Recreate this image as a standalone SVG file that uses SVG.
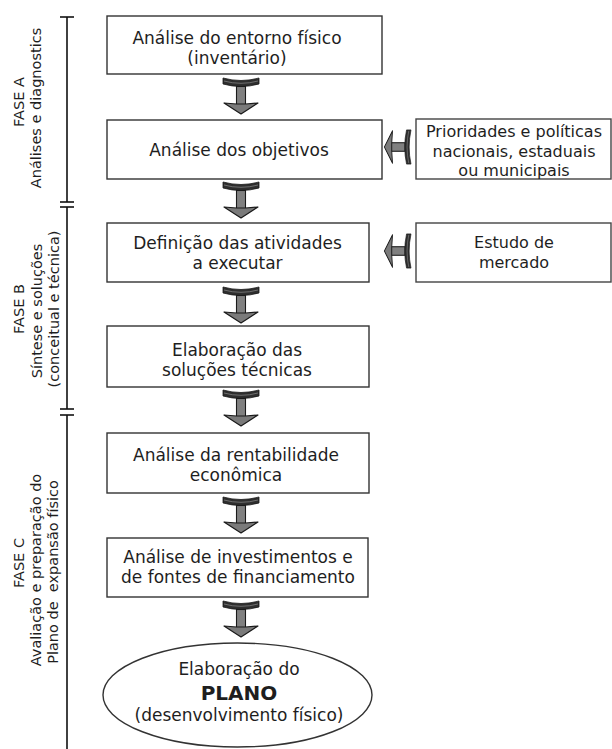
<svg xmlns="http://www.w3.org/2000/svg" width="612" height="749" viewBox="0 0 612 749">
  <style>
    .box { fill: #ffffff; stroke: #333333; stroke-width: 1.4; }
    .rbox { fill: #ffffff; stroke: #444444; stroke-width: 1.4; }
    .t { font-family: "DejaVu Sans", Verdana, sans-serif; font-size: 17px; fill: #1e1e1e; text-anchor: middle; }
    .tr { font-family: "DejaVu Sans", Verdana, sans-serif; font-size: 16px; fill: #1e1e1e; text-anchor: middle; }
    .tb { font-family: "DejaVu Sans", Verdana, sans-serif; font-size: 20px; font-weight: bold; fill: #1e1e1e; text-anchor: middle; }
    .ph { font-family: "DejaVu Sans", Verdana, sans-serif; font-size: 14.5px; fill: #1e1e1e; text-anchor: middle; }
    .axis { stroke: #111111; stroke-width: 1.6; fill: none; }
  </style>
  <defs>
    <g id="arr">
      <path d="M-18,0 Q-9,2.5 0,2.5 Q9,2.5 18,0 L18,6 Q9,8.5 0,8.5 Q-9,8.5 -18,6 Z" fill="#2e2e2e" stroke="#1a1a1a" stroke-width="0.8"/>
      <path d="M-17,3 Q-9,5.3 0,5.3 Q9,5.3 17,3" fill="none" stroke="#8a8a8a" stroke-width="0.7"/>
      <rect x="-4.5" y="8.5" width="9" height="18" fill="#808080" stroke="#1a1a1a" stroke-width="1.1"/>
      <path d="M-17,25 L-4.5,26 L4.5,26 L17,25 L0,36 Z" fill="#7a7a7a" stroke="#1a1a1a" stroke-width="1.2" stroke-linejoin="round"/>
    </g>
  </defs>

  <g id="phases">
    <line class="axis" x1="67" y1="17" x2="67" y2="202"/>
    <line class="axis" x1="67" y1="207" x2="67" y2="409"/>
    <line class="axis" x1="67" y1="415" x2="67" y2="749"/>
    <line class="axis" x1="60" y1="17" x2="74" y2="17"/>
    <line class="axis" x1="60" y1="202" x2="74" y2="202"/>
    <line class="axis" x1="60" y1="207" x2="74" y2="207"/>
    <line class="axis" x1="60" y1="409" x2="74" y2="409"/>
    <line class="axis" x1="60" y1="415" x2="74" y2="415"/>
    <text class="ph" transform="translate(24,102) rotate(-90)">FASE A</text>
    <text class="ph" transform="translate(41,108) rotate(-90)">Análises e diagnostics</text>
    <text class="ph" transform="translate(24,309) rotate(-90)">FASE B</text>
    <text class="ph" transform="translate(42,311) rotate(-90)">Síntese e soluções</text>
    <text class="ph" transform="translate(59,309) rotate(-90)">(conceitual e técnica)</text>
    <text class="ph" transform="translate(24,563) rotate(-90)">FASE C</text>
    <text class="ph" transform="translate(41,570) rotate(-90)">Avaliação e preparação do</text>
    <text class="ph" transform="translate(58,572) rotate(-90)" xml:space="preserve">Plano de  expansão físico</text>
  </g>

  <g id="connectors">
    <use href="#arr" transform="translate(241,78)"/>
    <use href="#arr" transform="translate(241,182)"/>
    <use href="#arr" transform="translate(241,287)"/>
    <use href="#arr" transform="translate(241,390)"/>
    <use href="#arr" transform="translate(241,497)"/>
    <use href="#arr" transform="translate(241,601)"/>
    <use href="#arr" transform="translate(411,147) rotate(90) scale(0.95,0.74)"/>
    <use href="#arr" transform="translate(411,251) rotate(90) scale(0.95,0.74)"/>
  </g>

  <g id="n1">
    <rect class="box" x="107" y="16" width="275" height="58"/>
    <text class="t" x="237" y="44">Análise do entorno físico</text>
    <text class="t" x="237" y="64">(inventário)</text>
  </g>
  <g id="n2">
    <rect class="box" x="107" y="120" width="275" height="59"/>
    <text class="t" x="239" y="156">Análise dos objetivos</text>
  </g>
  <g id="n3">
    <rect class="box" x="107" y="223" width="262" height="59"/>
    <text class="t" x="237.5" y="249">Definição das atividades</text>
    <text class="t" x="237.5" y="269">a executar</text>
  </g>
  <g id="n4">
    <rect class="box" x="107" y="326" width="262" height="61"/>
    <text class="t" x="237" y="356">Elaboração das</text>
    <text class="t" x="237" y="376">soluções técnicas</text>
  </g>
  <g id="n5">
    <rect class="box" x="107" y="433" width="262" height="60"/>
    <text class="t" x="236" y="461">Análise da rentabilidade</text>
    <text class="t" x="236" y="481">econômica</text>
  </g>
  <g id="n6">
    <rect class="box" x="107" y="538" width="261" height="59"/>
    <text class="t" x="238" y="563">Análise de investimentos e</text>
    <text class="t" x="238" y="583">de fontes de financiamento</text>
  </g>
  <g id="n7">
    <ellipse class="box" cx="237.5" cy="695" rx="134.5" ry="52"/>
    <text class="t" x="239" y="675">Elaboração do</text>
    <text class="tb" x="239" y="700">PLANO</text>
    <text class="t" x="239" y="721">(desenvolvimento físico)</text>
  </g>
  <g id="r1">
    <rect class="rbox" x="416" y="119" width="195" height="60"/>
    <text class="tr" x="514" y="137">Prioridades e políticas</text>
    <text class="tr" x="514" y="156.5">nacionais, estaduais</text>
    <text class="tr" x="514" y="176">ou municipais</text>
  </g>
  <g id="r2">
    <rect class="rbox" x="416" y="223" width="195" height="59"/>
    <text class="tr" x="514" y="248">Estudo de</text>
    <text class="tr" x="514" y="268">mercado</text>
  </g>
</svg>
